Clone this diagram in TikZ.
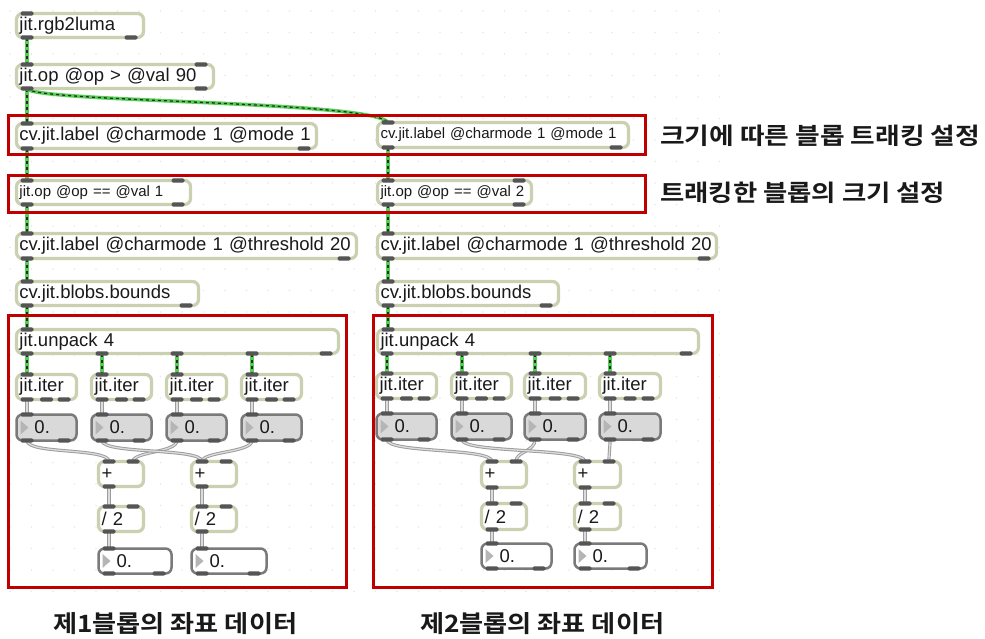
\documentclass[tikz,border=0pt]{standalone}
\usepackage{fontspec}
\setmainfont{Liberation Sans}
\newfontfamily\krb{Noto Sans CJK KR Bold}
\usetikzlibrary{calc}
\pgfdeclarelayer{bg}
\pgfsetlayers{bg,main}
\definecolor{boxedge}{HTML}{C9D1B1}
\definecolor{portc}{HTML}{555555}
\definecolor{redc}{HTML}{C00000}
\definecolor{jitgreen}{HTML}{55D055}
\definecolor{jitdash}{HTML}{2A2A2A}
\definecolor{numfill}{HTML}{D9D9D9}
\definecolor{numedge}{HTML}{7A7A7A}
\definecolor{gridc}{HTML}{E8E8E8}
\definecolor{txt}{HTML}{1A1A1A}
\definecolor{tric}{HTML}{B5B5B5}
\definecolor{gcout}{HTML}{9C9C9C}
\definecolor{gcin}{HTML}{DCDCDC}
\tikzset{
  obj/.style={draw=boxedge, line width=3.2pt, fill=white, rounded corners=6pt,
    anchor=north west, inner xsep=3pt, inner ysep=0pt, align=left,
    font=\fontsize{18.5}{20}\selectfont, text=txt, outer sep=0pt},
  small/.style={font=\fontsize{15}{17}\selectfont},
  numbox/.style={draw=numedge, fill=numfill, line width=2.5pt},
  outbox/.style={draw=numedge, fill=white, line width=2.5pt},
  port/.style={fill=portc, rounded corners=1.5pt},
  jcA/.style={draw=jitgreen, line width=3.6pt},
  jcB/.style={draw=jitdash, line width=1.3pt, dash pattern=on 3pt off 3pt},
  gcA/.style={draw=gcout, line width=3.2pt},
  gcB/.style={draw=gcin, line width=1.3pt},
  redbox/.style={draw=redc, line width=3pt},
  krlabel/.style={anchor=west, inner sep=0pt, text=black!90},
  tri/.style={fill=tric}
}
\newcommand\mobj[7]{%
  \pgfmathsetmacro\mx{#2+1.5}\pgfmathsetmacro\my{#3+1.5}%
  \pgfmathsetmacro\mw{#4-3}\pgfmathsetmacro\mh{#5-3}\pgfmathsetmacro\tw{#4-9}%
  \node[obj,#6,minimum width=\mw pt,minimum height=\mh pt,text width=\tw pt] (#1) at (\mx,\my) {#7};
  \coordinate (#1-i) at ($(#1.north west)+(10.5,0)$);
  \coordinate (#1-i2) at ($(#1.north west)+(34.5,0)$);
  \coordinate (#1-o) at ($(#1.south west)+(10.5,0)$);
  \coordinate (#1-om) at ($(#1.south)+(0,0)$);
  \coordinate (#1-ir) at ($(#1.north east)+(-12.5,0)$);
  \coordinate (#1-or) at ($(#1.south east)+(-12.5,0)$);
}
\newcommand\port[1]{\fill[port] ($(#1)+(-6.5,-2.2)$) rectangle ++(13,4.4);}
\newcommand\jcord[1]{\draw[jcA] #1; \draw[jcB] #1;}
\newcommand\gcord[1]{\draw[gcA] #1; \draw[gcB] #1;}
\newcommand\numtri[1]{\fill[tri] ($(#1.west)+(4,-7)$) -- ++(8,7) -- ++(-8,7) -- cycle;}
\begin{document}
\begin{tikzpicture}[x=1pt,y=-1pt]
\useasboundingbox (0,0) rectangle (985,638);
\begin{pgfonlayer}{bg}
\fill[white] (0,0) rectangle (985,638);
\foreach \gx in {0,...,33} \foreach \gy in {0,...,27}
  \fill[gridc] (10+\gx*21.5, 11+\gy*21.5) circle (0.9);
\end{pgfonlayer}

% ---------- left column ----------
\mobj{A}{15}{12}{130}{27}{}{jit.rgb2luma}
\mobj{B}{15}{63}{200}{27}{}{jit.op @op > @val 90}
\mobj{C}{15}{122}{303}{28}{}{cv.jit.label @charmode 1 @mode 1}
\mobj{D}{15}{179}{177}{27}{small}{jit.op @op == @val 1}
\mobj{E}{15}{232}{343}{28}{}{cv.jit.label @charmode 1 @threshold 20}
\mobj{F}{15}{280}{185}{27}{}{cv.jit.blobs.bounds}
\mobj{G}{15}{328}{325}{27}{}{jit.unpack 4}
\mobj{LI1}{15}{373}{63}{28}{}{jit.iter}
\mobj{LI2}{90}{373}{63}{28}{}{jit.iter}
\mobj{LI3}{165}{373}{63}{28}{}{jit.iter}
\mobj{LI4}{240}{373}{63}{28}{}{jit.iter}
\mobj{LN1}{15}{413}{63}{29}{numbox}{\hspace*{15pt}0.}
\mobj{LN2}{90}{413}{63}{29}{numbox}{\hspace*{15pt}0.}
\mobj{LN3}{165}{413}{63}{29}{numbox}{\hspace*{15pt}0.}
\mobj{LN4}{240}{413}{63}{29}{numbox}{\hspace*{15pt}0.}
\mobj{LP1}{97}{460}{48}{28}{}{+}
\mobj{LP2}{190}{460}{48}{28}{}{+}
\mobj{LQ1}{97}{505}{48}{28}{}{/ 2}
\mobj{LQ2}{190}{505}{48}{28}{}{/ 2}
\mobj{LO1}{97}{547}{76}{28}{outbox}{\hspace*{15pt}0.}
\mobj{LO2}{190}{547}{78}{28}{outbox}{\hspace*{15pt}0.}

% ---------- right column ----------
\mobj{C2}{376}{121}{254}{28}{small}{cv.jit.label @charmode 1 @mode 1}
\mobj{D2}{376}{179}{157}{27}{small}{jit.op @op == @val 2}
\mobj{E2}{376}{232}{342}{28}{}{cv.jit.label @charmode 1 @threshold 20}
\mobj{F2}{376}{280}{184}{27}{}{cv.jit.blobs.bounds}
\mobj{G2}{376}{328}{324}{27}{}{jit.unpack 4}
\mobj{RI1}{375}{372}{63}{28}{}{jit.iter}
\mobj{RI2}{450}{372}{63}{28}{}{jit.iter}
\mobj{RI3}{523}{372}{64}{28}{}{jit.iter}
\mobj{RI4}{598}{372}{64}{28}{}{jit.iter}
\mobj{RN1}{375}{412}{63}{29}{numbox}{\hspace*{15pt}0.}
\mobj{RN2}{450}{412}{63}{29}{numbox}{\hspace*{15pt}0.}
\mobj{RN3}{523}{412}{64}{29}{numbox}{\hspace*{15pt}0.}
\mobj{RN4}{598}{412}{64}{29}{numbox}{\hspace*{15pt}0.}
\mobj{RP1}{480}{460}{48}{29}{}{+}
\mobj{RP2}{573}{460}{49}{29}{}{+}
\mobj{RQ1}{480}{502}{48}{29}{}{/ 2}
\mobj{RQ2}{573}{502}{49}{29}{}{/ 2}
\mobj{RO1}{480}{542}{73}{28}{outbox}{\hspace*{15pt}0.}
\mobj{RO2}{573}{542}{75}{28}{outbox}{\hspace*{15pt}0.}

% number-box triangles
\foreach \n in {LN1,LN2,LN3,LN4,LO1,LO2,RN1,RN2,RN3,RN4,RO1,RO2} {\numtri{\n}}

% ---------- cords ----------
\begin{pgfonlayer}{bg}
\jcord{(A-o) -- (B-i)}
\jcord{(B-o) -- (C-i)}
\jcord{(B-o) .. controls +(6,14) and +(-15,-22) .. (C2-i)}
\jcord{(C-o) -- (D-i)}
\jcord{(D-o) -- (E-i)}
\jcord{(E-o) -- (F-i)}
\jcord{(F-o) -- (G-i)}
\jcord{(C2-o) -- (D2-i)}
\jcord{(D2-o) -- (E2-i)}
\jcord{(E2-o) -- (F2-i)}
\jcord{(F2-o) -- (G2-i)}
\foreach \k in {1,2,3,4} {
  \jcord{(G.south -| LI\k-i) -- (LI\k-i)}
  \jcord{(G2.south -| RI\k-i) -- (RI\k-i)}
  \gcord{(LI\k-o) -- (LN\k-i)}
  \gcord{(RI\k-o) -- (RN\k-i)}
}
\gcord{(LN1-o) .. controls +(0,14) and +(0,-14) .. (LP1-i)}
\gcord{(LN3-o) .. controls +(0,12) and +(0,-10) .. (LP1-i2)}
\gcord{(LN2-o) .. controls +(0,14) and +(0,-14) .. (LP2-i)}
\gcord{(LN4-o) .. controls +(0,12) and +(0,-10) .. (LP2-i)}
\gcord{(LP1-o) -- (LQ1-i)}
\gcord{(LP2-o) -- (LQ2-i)}
\gcord{(LQ1-o) -- (LO1-i)}
\gcord{(LQ2-o) -- (LO2-i)}
\gcord{(RN1-o) .. controls +(0,14) and +(0,-14) .. (RP1-i)}
\gcord{(RN3-o) .. controls +(0,12) and +(0,-10) .. (RP1-i2)}
\gcord{(RN2-o) .. controls +(0,14) and +(0,-14) .. (RP2-i)}
\gcord{(RN4-o) .. controls +(0,10) and +(0,-10) .. (RP2-i2)}
\gcord{(RP1-o) -- (RQ1-i)}
\gcord{(RP2-o) -- (RQ2-i)}
\gcord{(RQ1-o) -- (RO1-i)}
\gcord{(RQ2-o) -- (RO2-i)}
\end{pgfonlayer}

% ---------- ports ----------
\port{A-i}\port{A-o}\port{A-or}
\foreach \n in {B,D,D2} {\port{\n-i}\port{\n-ir}\port{\n-o}\port{\n-or}}
\foreach \n in {C,C2,E,E2,F,F2} {\port{\n-i}\port{\n-o}\port{\n-or}}
\port{G-i}\port{G-or}\port{G2-i}\port{G2-or}
\foreach \k in {1,2,3,4} {
  \port{G.south -| LI\k-i}\port{G2.south -| RI\k-i}
  \port{LI\k-i}\port{LI\k-o}\port{LI\k-om}\port{LI\k-or}
  \port{RI\k-i}\port{RI\k-o}\port{RI\k-om}\port{RI\k-or}
  \port{LN\k-i}\port{LN\k-o}\port{LN\k-or}
  \port{RN\k-i}\port{RN\k-o}\port{RN\k-or}
}
\foreach \n in {LP1,LP2,LQ1,LQ2,RP1,RP2,RQ1,RQ2} {\port{\n-i}\port{\n-i2}\port{\n-o}}
\foreach \n in {LO1,LO2,RO1,RO2} {\port{\n-i}\port{\n-o}\port{\n-or}}

% ---------- red frames ----------
\draw[redbox] (8,115) rectangle (645,154);
\draw[redbox] (8,175) rectangle (645,212);
\draw[redbox] (8,315) rectangle (346,587);
\draw[redbox] (373,315) rectangle (712,587);

% ---------- labels ----------
\node[krlabel] (t1) at (660,135.5) {\resizebox{320pt}{19.5pt}{\krb 크기에 따른 블롭 트래킹 설정}};
\node[krlabel] (t2) at (660,192.5) {\resizebox{285pt}{19.5pt}{\krb 트래킹한 블롭의 크기 설정}};
\node[krlabel] (t3) at (53,624) {\resizebox{244pt}{20pt}{\krb 제1블롭의 좌표 데이터}};
\node[krlabel] (t4) at (420,624) {\resizebox{244pt}{20pt}{\krb 제2블롭의 좌표 데이터}};
\end{tikzpicture}
\end{document}
